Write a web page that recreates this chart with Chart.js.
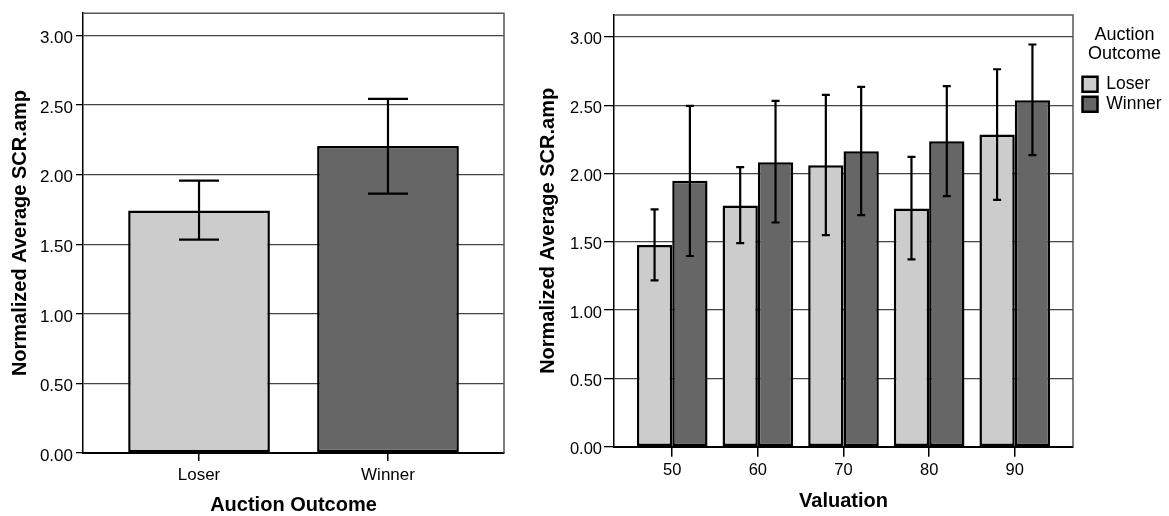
<!DOCTYPE html>
<html lang="en">
<head>
<meta charset="UTF-8">
<title>Normalized Average SCR.amp</title>
<script src="https://cdn.jsdelivr.net/npm/chart.js@4"></script>
<style>
  body { margin: 0; background: #fff; }
  #wrap { position: relative; width: 1169px; height: 516px; }
  canvas { position: absolute; top: 0; }
</style>
</head>
<body>
<div id="wrap">
  <canvas id="left" width="530" height="516" style="left:0"></canvas>
  <canvas id="right" width="639" height="516" style="left:530px"></canvas>
</div>
<script>
// left panel: mean by auction outcome (with error bars)
const outcomes = ['Loser', 'Winner'];
const outcomeMeans = [1.743, 2.205];
const outcomeLow = [1.533, 1.864];
const outcomeHigh = [1.957, 2.545];

// right panel: mean by valuation, split by outcome
const valuations = [50, 60, 70, 80, 90];
const loserMeans = [1.477, 1.766, 2.061, 1.744, 2.285];
const loserLow = [1.217, 1.490, 1.549, 1.371, 1.807];
const loserHigh = [1.737, 2.046, 2.575, 2.122, 2.763];
const winnerMeans = [1.946, 2.083, 2.163, 2.236, 2.536];
const winnerLow = [1.396, 1.641, 1.695, 1.834, 2.134];
const winnerHigh = [2.495, 2.531, 2.634, 2.639, 2.944];

const yTicks = [0, 0.5, 1, 1.5, 2, 2.5, 3];

Chart.defaults.font.family = "'Liberation Sans', Arial, sans-serif";
Chart.defaults.color = '#000';

// error bars drawn on top of the bars
const errorBars = {
  id: 'errorBars',
  afterDatasetsDraw(chart, args, opts) {
    const ctx = chart.ctx;
    const y = chart.scales.y;
    const half = opts.cap / 2;
    chart.data.datasets.forEach((ds, di) => {
      chart.getDatasetMeta(di).data.forEach((bar, i) => {
        const top = y.getPixelForValue(ds.errHigh[i]);
        const bot = y.getPixelForValue(ds.errLow[i]);
        ctx.save();
        ctx.strokeStyle = '#000';
        ctx.lineWidth = 2.2;
        ctx.beginPath();
        ctx.moveTo(bar.x, top); ctx.lineTo(bar.x, bot);
        ctx.moveTo(bar.x - half, top); ctx.lineTo(bar.x + half, top);
        ctx.moveTo(bar.x - half, bot); ctx.lineTo(bar.x + half, bot);
        ctx.stroke();
        ctx.restore();
      });
    });
  }
};

// top and right edge of the plot box
const frame = {
  id: 'frame',
  beforeDatasetsDraw(chart) {
    const { ctx, chartArea: a } = chart;
    ctx.save();
    ctx.strokeStyle = '#555';
    ctx.lineWidth = 1.5;
    ctx.beginPath();
    ctx.moveTo(a.left, a.top);
    ctx.lineTo(a.right, a.top);
    ctx.lineTo(a.right, a.bottom);
    ctx.stroke();
    ctx.restore();
  }
};

function yScale(width, titlePad, fontSize, tickLen, pad) {
  return {
    min: 0,
    max: 3.16,
    afterBuildTicks: s => { s.ticks = yTicks.map(v => ({ value: v })); },
    ticks: { font: { size: fontSize }, padding: pad, labelOffset: 3, callback: v => v.toFixed(2) },
    grid: { color: '#444', lineWidth: 1.3, tickLength: tickLen, tickColor: '#000' },
    border: { color: '#000', width: 1.5 },
    title: {
      display: true,
      text: 'Normalized Average SCR.amp',
      font: { size: 20, weight: 'bold' },
      padding: { top: titlePad, bottom: 0 }
    },
    afterFit: s => { s.width = width; }
  };
}

function xScale(min, max, values, label, title, height, fontSize, tickLen, pad, titlePad) {
  return {
    type: 'linear',
    min: min,
    max: max,
    offset: false,
    afterBuildTicks: s => { s.ticks = values.map(v => ({ value: v })); },
    ticks: { font: { size: fontSize }, padding: pad, callback: label },
    grid: { offset: false, drawOnChartArea: false, tickLength: tickLen, tickColor: '#000', lineWidth: 1.5 },
    border: { color: '#000', width: 2 },
    title: {
      display: true,
      text: title,
      font: { size: 20, weight: 'bold' },
      padding: { top: 0, bottom: titlePad }
    },
    afterFit: s => { s.height = height; }
  };
}

new Chart(document.getElementById('left'), {
  type: 'bar',
  data: {
    datasets: [{
      label: 'Auction Outcome',
      data: outcomes.map((c, i) => ({ x: i, y: outcomeMeans[i] })),
      errLow: outcomeLow,
      errHigh: outcomeHigh,
      backgroundColor: ['#cccccc', '#666666'],
      borderColor: '#000',
      borderWidth: 2.5,
      borderSkipped: false,
      categoryPercentage: 1,
      barPercentage: 0.75
    }]
  },
  options: {
    responsive: false,
    devicePixelRatio: 1,
    animation: false,
    layout: { padding: { top: 11, right: 26, bottom: 0, left: 0 } },
    scales: {
      x: xScale(-0.614, 1.614, outcomes.map((c, i) => i), v => outcomes[v], 'Auction Outcome', 63, 17, 8, 4, -1),
      y: yScale(83, 8, 17, 7, 3)
    },
    plugins: {
      legend: { display: false },
      tooltip: { enabled: false },
      errorBars: { cap: 40 }
    }
  },
  plugins: [frame, errorBars]
});

new Chart(document.getElementById('right'), {
  type: 'bar',
  data: {
    datasets: [{
      label: 'Loser',
      data: valuations.map((v, i) => ({ x: v, y: loserMeans[i] })),
      errLow: loserLow,
      errHigh: loserHigh,
      backgroundColor: '#cccccc',
      borderColor: '#000',
      borderWidth: 2.5,
      borderSkipped: false,
      categoryPercentage: 0.825,
      barPercentage: 1
    }, {
      label: 'Winner',
      data: valuations.map((v, i) => ({ x: v, y: winnerMeans[i] })),
      errLow: winnerLow,
      errHigh: winnerHigh,
      backgroundColor: '#666666',
      borderColor: '#000',
      borderWidth: 2.5,
      borderSkipped: false,
      categoryPercentage: 0.825,
      barPercentage: 1
    }]
  },
  options: {
    responsive: false,
    devicePixelRatio: 1,
    animation: false,
    layout: { padding: { top: 15, right: 0, bottom: 0, left: 0 } },
    scales: {
      x: xScale(43.2, 96.8, valuations, v => String(v), 'Valuation', 69.3, 16.5, 10, 4, 3),
      y: yScale(84, 6, 16.5, 10, 2),
      // empty axis, only keeps a gap between plot box and legend
      y2: {
        type: 'linear',
        position: 'right',
        grid: { display: false },
        border: { display: false },
        ticks: { display: false },
        afterFit: s => { s.width = 7; }
      }
    },
    plugins: {
      legend: {
        position: 'right',
        align: 'start',
        maxWidth: 89,
        title: {
          display: true,
          text: ['Auction', 'Outcome'],
          font: { size: 18, lineHeight: 19 / 18 },
          padding: { top: 11, bottom: 27.9 }
        },
        labels: { boxWidth: 15, boxHeight: 15, padding: 2.5, font: { size: 17.5 }, color: '#000' }
      },
      tooltip: { enabled: false },
      errorBars: { cap: 8 }
    }
  },
  plugins: [frame, errorBars]
});
</script>
</body>
</html>
